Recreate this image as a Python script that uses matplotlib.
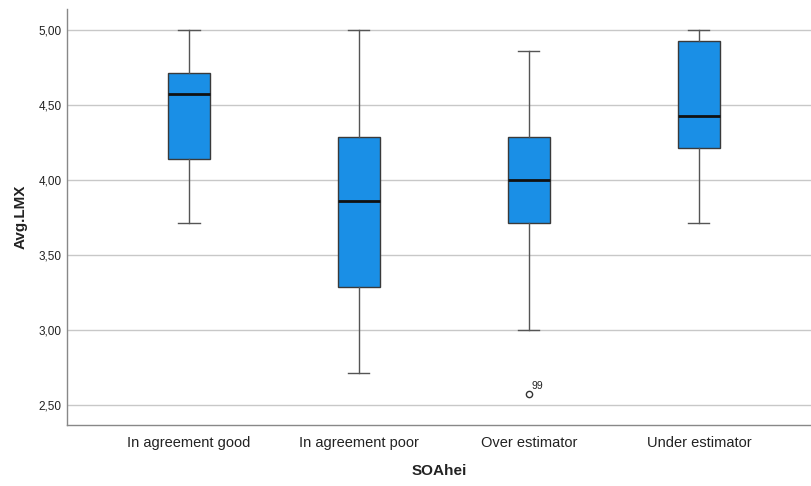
import matplotlib
matplotlib.use("Agg")
import matplotlib.pyplot as plt
from matplotlib.ticker import FuncFormatter

categories = ["In agreement good", "In agreement poor", "Over estimator", "Under estimator"]
whislo = [3.714, 2.714, 3.000, 3.714]
q1 = [4.143, 3.286, 3.714, 4.214]
med = [4.571, 3.857, 4.000, 4.429]
q3 = [4.714, 4.286, 4.286, 4.929]
whishi = [5.000, 5.000, 4.857, 5.000]
fliers = [[], [], [2.571], []]
flier_labels = [[], [], ["99"], []]
yticks = [2.5, 3.0, 3.5, 4.0, 4.5, 5.0]

plt.rcParams['font.family'] = ['Liberation Sans', 'DejaVu Sans']

fig = plt.figure(figsize=(8.11, 4.86), dpi=100)
ax = fig.add_axes([67/811, 61/486, 744/811, 416/486])

stats = []
for i, c in enumerate(categories):
    stats.append(dict(label=c, whislo=whislo[i], q1=q1[i], med=med[i], q3=q3[i],
                      whishi=whishi[i], fliers=fliers[i]))

pos = list(range(len(categories)))
ax.bxp(stats, positions=pos, widths=0.25, patch_artist=True, showfliers=True,
       capwidths=0.124,
       boxprops=dict(facecolor="#1a8fe6", edgecolor="#3a3a3a", linewidth=1.0),
       medianprops=dict(color="#111111", linewidth=2.0),
       whiskerprops=dict(color="#555555", linewidth=1.0),
       capprops=dict(color="#555555", linewidth=1.0),
       flierprops=dict(marker="o", markersize=4.5, markerfacecolor="white",
                       markeredgecolor="#333333", markeredgewidth=1.0))

for i, (fv, fl) in enumerate(zip(fliers, flier_labels)):
    for v, lab in zip(fv, fl):
        ax.annotate(lab, (pos[i], v), xytext=(2, 4), textcoords="offset points",
                    fontsize=7.5, color="#222222")

ax.set_xlim(-0.718, 3.66)
ax.set_ylim(2.367, 5.14)
ax.set_yticks(yticks)
ax.yaxis.set_major_formatter(FuncFormatter(lambda v, p: f"{v:.2f}".replace(".", ",")))
ax.set_xticks(pos)
ax.set_xticklabels(categories, fontsize=10.5, color="#222222")
ax.tick_params(axis="y", labelsize=8.5, colors="#222222", length=0, pad=4)
ax.tick_params(axis="x", length=0, pad=8)
ax.yaxis.grid(True, color="#c8c8c8", linewidth=1.0)
ax.set_axisbelow(True)
for s in ["top", "right"]:
    ax.spines[s].set_visible(False)
for s in ["left", "bottom"]:
    ax.spines[s].set_color("#888888")
    ax.spines[s].set_linewidth(1.0)

ax.set_ylabel("Avg.LMX", fontsize=11, fontweight="bold", color="#222222", labelpad=8)
ax.set_xlabel("SOAhei", fontsize=11, fontweight="bold", color="#222222", labelpad=10)

fig.savefig("out.png", dpi=100)
